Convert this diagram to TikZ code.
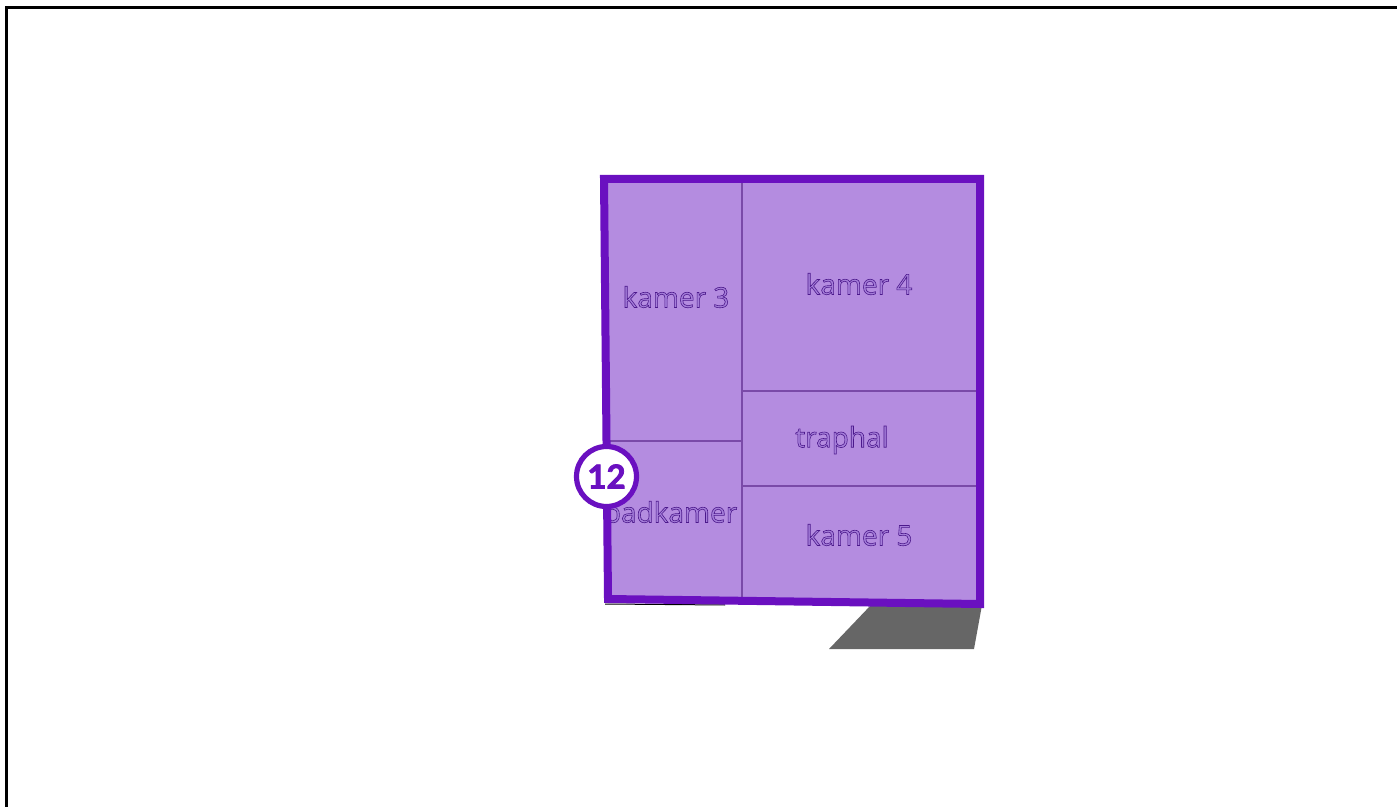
\documentclass[tikz,border=0pt]{standalone}
\usepackage{fontspec}
\setmainfont{Open Sans}
\newfontfamily\numfont{Lato}
\definecolor{roomfill}{HTML}{B48CE0}
\definecolor{roomedge}{HTML}{6A10C0}
\definecolor{roomline}{HTML}{7A4AA8}
\definecolor{roomtext}{HTML}{A57EDA}
\newcommand{\outlined}[1]{\special{pdf:code q 2 Tr 0.3 w 0.30 0.10 0.55 RG}#1\special{pdf:code Q}}
\newcommand{\thicktext}[1]{\special{pdf:code q 2 Tr 0.4 w}#1\special{pdf:code Q}}
\tikzset{
  roomlabel/.style={font=\fontsize{14}{16}\selectfont, text=roomtext},
  wall/.style={draw=roomline, line width=0.6pt}
}
\begin{document}
\begin{tikzpicture}[x=0.5pt, y=-0.5pt]
\useasboundingbox (0, 0) rectangle (1397, 807);
\draw[line width=1.6pt] (6.5, 807) -- (6.5, 7.5) -- (1397, 7.5);

\fill[black!60] (871, 605) -- (982, 605) -- (974, 649) -- (829, 649) -- cycle;
\draw[line width=0.5pt] (605, 604) -- (725, 605);

\fill[roomfill] (604, 179) -- (980, 179) -- (980, 604) -- (608, 599) -- cycle;

\draw[wall] (742, 182) -- (742, 598);
\draw[wall] (742, 391) -- (977, 391);
\draw[wall] (742, 486) -- (977, 486);
\draw[wall] (609, 441) -- (742, 441);

\node[roomlabel] (kamer3) at (676, 297) {\outlined{kamer 3}};
\node[roomlabel] (kamer4) at (859, 284) {\outlined{kamer 4}};
\node[roomlabel] (traphal) at (842, 440) {\outlined{traphal}};
\node[roomlabel] (kamer5) at (859, 535) {\outlined{kamer 5}};
\node[roomlabel] (badkamer) at (670.5, 512) {\outlined{badkamer}};

\draw[roomedge, line width=4pt, miter limit=10] (604, 179) -- (980, 179) -- (980, 604) -- (608, 599) -- cycle;

\node[circle, draw=roomedge, fill=white, line width=2.6pt, minimum size=30pt, inner sep=0pt, text=roomedge, font=\numfont\bfseries\fontsize{16.5}{17}\selectfont] (badge) at (606.5, 476.5) {\thicktext{12}};
\end{tikzpicture}
\end{document}
